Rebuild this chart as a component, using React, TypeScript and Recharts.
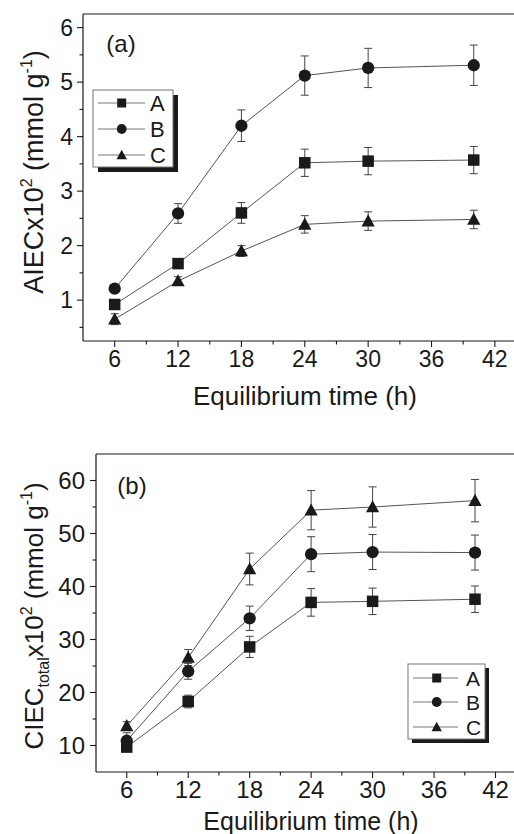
import React from "react";
import { LineChart, Line, XAxis, YAxis, ErrorBar, ReferenceLine } from "recharts";

// equilibrium time (h)
const times = [6, 12, 18, 24, 30, 40];

// (a) AIEC x10^2 (mmol g-1)
const aiecA = [0.92, 1.67, 2.6, 3.52, 3.55, 3.57];
const aiecAErr = [0.05, 0.07, 0.19, 0.25, 0.25, 0.25];
const aiecB = [1.21, 2.59, 4.2, 5.12, 5.26, 5.31];
const aiecBErr = [0.03, 0.18, 0.29, 0.36, 0.36, 0.37];
const aiecC = [0.65, 1.35, 1.9, 2.39, 2.45, 2.48];
const aiecCErr = [0.1, 0.08, 0.1, 0.16, 0.17, 0.17];

// (b) CIEC_total x10^2 (mmol g-1)
const ciecA = [9.7, 18.3, 28.6, 37.0, 37.2, 37.6];
const ciecAErr = [0.8, 1.2, 2.0, 2.6, 2.5, 2.5];
const ciecB = [10.9, 24.0, 34.0, 46.1, 46.5, 46.4];
const ciecBErr = [1.5, 1.5, 2.3, 3.3, 3.3, 3.3];
const ciecC = [13.7, 26.6, 43.3, 54.4, 55.0, 56.2];
const ciecCErr = [0.8, 1.5, 3.0, 3.7, 3.8, 4.0];

const xTicks = [6, 9, 12, 15, 18, 21, 24, 27, 30, 33, 36, 39, 42];
const xMajor = [6, 12, 18, 24, 30, 36, 42];
const aTicks = [0.5, 1, 1.5, 2, 2.5, 3, 3.5, 4, 4.5, 5, 5.5, 6];
const aMajor = [1, 2, 3, 4, 5, 6];
const bTicks = [10, 15, 20, 25, 30, 35, 40, 45, 50, 55, 60];
const bMajor = [10, 20, 30, 40, 50, 60];

const seriesNames = ["A", "B", "C"];
const seriesShapes = ["square", "circle", "triangle"];

const FONT = "'Liberation Sans', Arial, sans-serif";
const INK = "#1a1a1a";
const LINE = "#555";

const dataA = times.map((t, i) => ({
  t,
  A: aiecA[i], Aerr: aiecAErr[i],
  B: aiecB[i], Berr: aiecBErr[i],
  C: aiecC[i], Cerr: aiecCErr[i],
}));

const dataB = times.map((t, i) => ({
  t,
  A: ciecA[i], Aerr: ciecAErr[i],
  B: ciecB[i], Berr: ciecBErr[i],
  C: ciecC[i], Cerr: ciecCErr[i],
}));

function Marker({ shape, cx, cy, s }: any) {
  if (cx == null || cy == null) return null;
  if (shape === "square")
    return <rect x={cx - s / 2} y={cy - s / 2} width={s} height={s} fill={INK} />;
  if (shape === "circle") return <circle cx={cx} cy={cy} r={s / 2 + 0.4} fill={INK} />;
  const w = s * 1.15;
  const h = s * 1.02;
  return (
    <polygon
      points={`${cx},${cy - h * 0.58} ${cx - w / 2},${cy + h * 0.45} ${cx + w / 2},${cy + h * 0.45}`}
      fill={INK}
    />
  );
}

function xTick(fontSize: number) {
  return (p: any) => {
    const major = xMajor.includes(p.payload.value);
    return (
      <g>
        <line x1={p.x} x2={p.x} y1={p.y} y2={p.y + (major ? 6 : 3.5)} stroke={INK} strokeWidth={1.1} />
        {major && (
          <text x={p.x} y={p.y + 9 + fontSize * 0.72} textAnchor="middle" fontSize={fontSize} fontFamily={FONT} fill={INK}>
            {p.payload.value}
          </text>
        )}
      </g>
    );
  };
}

function yTick(fontSize: number, majors: number[], gap: number) {
  return (p: any) => {
    const major = majors.includes(p.payload.value);
    return (
      <g>
        <line x1={p.x} x2={p.x - (major ? 6 : 3.5)} y1={p.y} y2={p.y} stroke={INK} strokeWidth={1.1} />
        {major && (
          <text x={p.x - gap} y={p.y + fontSize * 0.36} textAnchor="end" fontSize={fontSize} fontFamily={FONT} fill={INK}>
            {p.payload.value}
          </text>
        )}
      </g>
    );
  };
}

function Panel({ data, yDomain, yTicks, yMajor, left, top, axisH, height, tickFont, gap }: any) {
  return (
    <LineChart
      width={517}
      height={height}
      data={data}
      margin={{ top, right: 1, bottom: 0, left: 0 }}
    >
      <XAxis
        dataKey="t"
        type="number"
        domain={[3, 44]}
        ticks={xTicks}
        interval={0}
        height={axisH}
        tickSize={0}
        tickMargin={0}
        tickLine={false}
        tick={xTick(tickFont)}
        axisLine={{ stroke: INK, strokeWidth: 1.2 }}
        allowDataOverflow
      />
      <YAxis
        type="number"
        domain={yDomain}
        ticks={yTicks}
        interval={0}
        width={left}
        tickSize={0}
        tickMargin={0}
        tickLine={false}
        tick={yTick(tickFont, yMajor, gap)}
        axisLine={{ stroke: INK, strokeWidth: 1.2 }}
        allowDataOverflow
      />
      <ReferenceLine y={yDomain[1]} stroke={INK} strokeWidth={1.2} />
      {seriesNames.map((name, k) => (
        <Line
          key={name}
          dataKey={name}
          type="linear"
          stroke={LINE}
          strokeWidth={1}
          isAnimationActive={false}
          dot={(d: any) => <Marker key={`${name}-${d.index}`} shape={seriesShapes[k]} cx={d.cx} cy={d.cy} s={11.5} />}
          activeDot={false}
        >
          <ErrorBar dataKey={`${name}err`} direction="y" width={4} stroke="#444" strokeWidth={1} />
        </Line>
      ))}
    </LineChart>
  );
}

function LegendBox({ x, y, w, h, rowY, lineX1, lineX2, markX, textX, font, shadow }: any) {
  return (
    <g>
      <rect x={x + shadow} y={y + shadow} width={w} height={h} fill={INK} />
      <rect x={x} y={y} width={w} height={h} fill="#fff" stroke="#777" strokeWidth={1} />
      {seriesNames.map((name, k) => (
        <g key={name}>
          <line x1={lineX1} x2={lineX2} y1={rowY[k]} y2={rowY[k]} stroke="#777" strokeWidth={1} />
          <Marker shape={seriesShapes[k]} cx={markX} cy={rowY[k]} s={9} />
          <text x={textX} y={rowY[k] + font * 0.36} fontSize={font} fontFamily={FONT} fill={INK}>
            {name}
          </text>
        </g>
      ))}
    </g>
  );
}

export default function App() {
  return (
    <div style={{ position: "absolute", left: 0, top: 0, width: 514, height: 834, overflow: "hidden", background: "#fff" }}>
      <div style={{ position: "absolute", left: 0, top: 0 }}>
        <Panel data={dataA} yDomain={[0.25, 6.25]} yTicks={aTicks} yMajor={aMajor} left={83} top={14} axisH={79} height={420} tickFont={23} gap={10} />
      </div>
      <div style={{ position: "absolute", left: 0, top: 420 }}>
        <Panel data={dataB} yDomain={[5, 65]} yTicks={bTicks} yMajor={bMajor} left={96} top={34} axisH={62} height={414} tickFont={24} gap={11} />
      </div>
      <svg width={514} height={834} style={{ position: "absolute", left: 0, top: 0, pointerEvents: "none" }}>
        <text x={121} y={52} textAnchor="middle" fontSize={24} fontFamily={FONT} fill={INK}>(a)</text>
        <text x={132} y={494} textAnchor="middle" fontSize={24} fontFamily={FONT} fill={INK}>(b)</text>

        <text x={305} y={405} textAnchor="middle" fontSize={26} fontFamily={FONT} fill={INK}>Equilibrium time (h)</text>
        <text x={311} y={830} textAnchor="middle" fontSize={25} fontFamily={FONT} fill={INK}>Equilibrium time (h)</text>

        <g transform="translate(43,172) rotate(-90)">
          <text x={0} y={0} textAnchor="middle" fontSize={27} fontFamily={FONT} fill={INK}>
            AIECx10<tspan fontSize={16} dy={-11}>2</tspan>
            <tspan dy={11}> (mmol g</tspan>
            <tspan fontSize={16} dy={-11}>-1</tspan>
            <tspan dy={11}>)</tspan>
          </text>
        </g>
        <g transform="translate(43,616) rotate(-90)">
          <text x={0} y={0} textAnchor="middle" fontSize={26} fontFamily={FONT} fill={INK}>
            CIEC<tspan fontSize={16} dy={6}>total</tspan>
            <tspan dy={-6}>x10</tspan>
            <tspan fontSize={16} dy={-11}>2</tspan>
            <tspan dy={11}> (mmol g</tspan>
            <tspan fontSize={16} dy={-11}>-1</tspan>
            <tspan dy={11}>)</tspan>
          </text>
        </g>

        <LegendBox x={93} y={90} w={80} h={77} shadow={5} rowY={[103, 129, 155]} lineX1={98} lineX2={145} markX={121.7} textX={150} font={22} />
        <LegendBox x={408} y={664} w={77} h={75} shadow={4} rowY={[678, 702, 727]} lineX1={413} lineX2={458} markX={436.7} textX={466} font={21} />
      </svg>
    </div>
  );
}
